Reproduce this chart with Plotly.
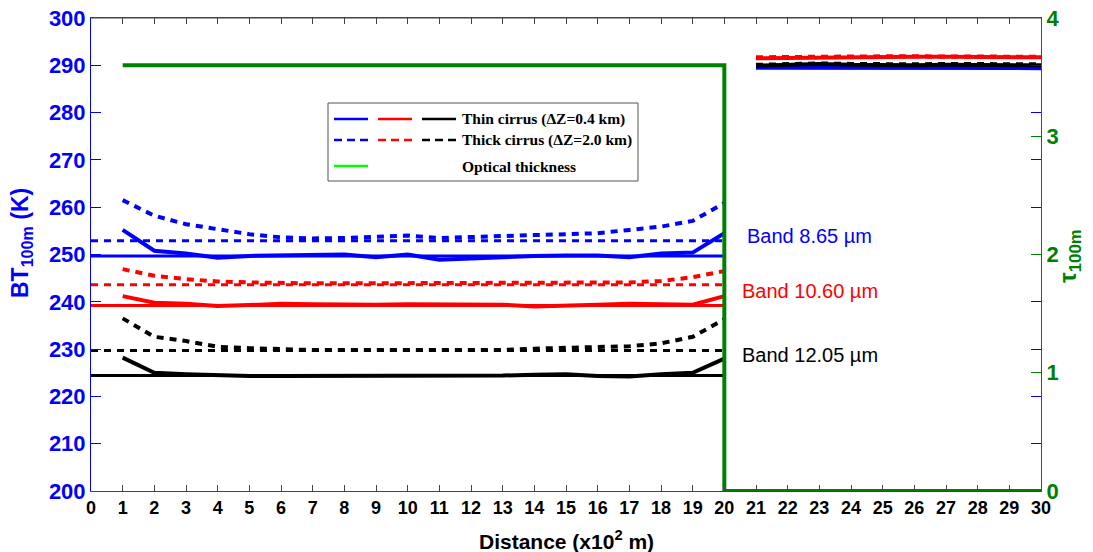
import plotly.graph_objects as go

# ---------------- data ----------------
dist_cloud = list(range(1, 21))
dist_clear = list(range(21, 31))
ref_x = [0, 20]

thin_865 = [255.2, 250.8, 250.2, 249.3, 249.7, 249.8, 249.8, 250.0, 249.4, 250.0,
            248.9, 249.2, 249.5, 249.7, 249.8, 249.8, 249.4, 250.2, 250.4, 254.5]
thick_865 = [261.5, 258.2, 256.4, 255.3, 254.3, 253.6, 253.4, 253.5, 253.8, 254.0,
             253.5, 253.8, 253.9, 254.1, 254.3, 254.5, 255.2, 255.9, 257.1, 260.9]
thin_1060 = [241.2, 239.8, 239.6, 239.1, 239.3, 239.6, 239.5, 239.4, 239.4, 239.5,
             239.5, 239.5, 239.4, 239.0, 239.3, 239.4, 239.6, 239.5, 239.4, 241.2]
thick_1060 = [246.9, 245.5, 244.8, 244.3, 244.1, 243.9, 243.9, 243.9, 243.9, 243.9,
              243.9, 243.9, 243.9, 243.9, 243.9, 244.0, 244.1, 244.4, 245.2, 246.5]
thin_1205 = [228.2, 225.0, 224.7, 224.4, 224.3, 224.3, 224.3, 224.3, 224.4, 224.4,
             224.3, 224.3, 224.4, 224.6, 224.7, 224.3, 224.2, 224.7, 225.0, 228.0]
thick_1205 = [236.5, 232.6, 231.7, 230.5, 230.2, 229.9, 229.8, 229.8, 229.8, 229.8,
              229.8, 229.8, 229.8, 230.1, 230.2, 230.3, 230.6, 231.2, 232.6, 236.3]

clear_thin_865 = [289.5, 289.5, 289.6, 289.5, 289.4, 289.5, 289.5, 289.6, 289.6, 289.4]
clear_thick_865 = [289.7, 289.7, 289.8, 289.7, 289.6, 289.7, 289.7, 289.8, 289.8, 289.6]
clear_thin_1060 = [291.5, 291.6, 291.7, 291.7, 291.8, 291.8, 291.8, 291.8, 291.8, 291.7]
clear_thick_1060 = [291.7, 291.8, 291.8, 291.9, 291.9, 291.9, 291.9, 291.9, 291.9, 291.8]
clear_thin_1205 = [289.9, 290.1, 290.3, 290.1, 290.0, 290.0, 290.1, 290.1, 290.1, 290.0]
clear_thick_1205 = [290.1, 290.3, 290.4, 290.3, 290.2, 290.2, 290.3, 290.3, 290.3, 290.2]

ref_thin = {"865": 249.7, "1060": 239.2, "1205": 224.4}
ref_thick = {"865": 252.9, "1060": 243.6, "1205": 229.7}

tau_x = [1, 20, 20, 30]
tau_y = [3.6, 3.6, 0, 0]

band_labels = ["Band 8.65 \u00b5m", "Band 10.60 \u00b5m", "Band 12.05 \u00b5m"]
band_label_y = [253.9, 242.3, 228.8]
x_ticks = list(range(0, 31))
y_ticks = list(range(200, 301, 10))
y2_ticks = [0, 1, 2, 3, 4]

BLUE, RED, BLACK, GREEN = "#0000FF", "#FF0000", "#000000", "#008000"
DASH = "7px,6px"

fig = go.Figure()

series = [
    ("865", BLUE, thin_865, thick_865, clear_thin_865, clear_thick_865),
    ("1060", RED, thin_1060, thick_1060, clear_thin_1060, clear_thick_1060),
    ("1205", BLACK, thin_1205, thick_1205, clear_thin_1205, clear_thick_1205),
]
for key, col, thin, thick, cthin, cthick in series:
    fig.add_trace(go.Scatter(x=ref_x, y=[ref_thin[key]] * 2, mode="lines",
                             line=dict(color=col, width=3), showlegend=False))
    fig.add_trace(go.Scatter(x=ref_x, y=[ref_thick[key]] * 2, mode="lines",
                             line=dict(color=col, width=3, dash=DASH), showlegend=False))
    fig.add_trace(go.Scatter(x=dist_cloud, y=thick, mode="lines",
                             line=dict(color=col, width=4, dash=DASH), showlegend=False))
    fig.add_trace(go.Scatter(x=dist_cloud, y=thin, mode="lines",
                             line=dict(color=col, width=4), showlegend=False))
for key, col, thin, thick, cthin, cthick in series:
    fig.add_trace(go.Scatter(x=dist_clear, y=cthick, mode="lines",
                             line=dict(color=col, width=4, dash=DASH), showlegend=False))
    fig.add_trace(go.Scatter(x=dist_clear, y=cthin, mode="lines",
                             line=dict(color=col, width=4), showlegend=False))

fig.add_trace(go.Scatter(x=tau_x, y=tau_y, mode="lines", yaxis="y2",
                         line=dict(color=GREEN, width=4), showlegend=False))

# band labels
for txt, yv, col in zip(band_labels, band_label_y, [BLUE, RED, BLACK]):
    fig.add_annotation(x=22.7, y=yv, xref="x", yref="y", text=txt, showarrow=False,
                       font=dict(family="Liberation Sans, Arial", size=20, color=col))

# ---------------- legend (drawn manually) ----------------
# page-pixel geometry of the plot area (page has an 8px body margin)
OFF = 8
L, R, T, B = 91, 1041, 18, 491
W, H = 1093 - OFF, 552 - OFF
def px(v):
    return (v - L) / (R - L)
def py(v):
    return (B - v) / (B - T)

fig.add_shape(type="rect", xref="paper", yref="paper", x0=px(328), x1=px(638),
              y0=py(181), y1=py(103), line=dict(color="#555555", width=1),
              fillcolor="white", layer="above")
rows = [(119, [BLUE, RED, BLACK], "solid", "Thin cirrus (\u0394Z=0.4 km)"),
        (140, [BLUE, RED, BLACK], "dash", "Thick cirrus (\u0394Z=2.0 km)"),
        (166, ["#00FF00"], "solid", "Optical thickness")]
seg_x = [(334, 368), (378, 412), (422, 456)]
for yy, cols, dash, txt in rows:
    for (a, b), c in zip(seg_x, cols):
        fig.add_shape(type="line", xref="paper", yref="paper", x0=px(a), x1=px(b),
                      y0=py(yy), y1=py(yy), layer="above",
                      line=dict(color=c, width=2.5, dash="8px,5px" if dash == "dash" else "solid"))
    fig.add_annotation(xref="paper", yref="paper", x=px(460), y=py(yy), xanchor="left",
                       yanchor="middle", text=txt, showarrow=False,
                       font=dict(family="Liberation Serif, Times New Roman", size=15.5,
                                 color="black", weight="bold"))

axis_font = "Liberation Sans, Arial"
# axis titles
fig.add_annotation(xref="paper", yref="paper", x=px(566), y=py(540), text="Distance (x10<sup>2</sup> m)",
                   showarrow=False, xanchor="center", yanchor="middle",
                   font=dict(family=axis_font, size=21, color="black", weight="bold"))
fig.add_annotation(xref="paper", yref="paper", x=px(22), y=py(243), text="BT<sub>100m</sub> (K)",
                   showarrow=False, textangle=-90, xanchor="center", yanchor="middle",
                   font=dict(family=axis_font, size=23, color=BLUE, weight="bold"))
fig.add_annotation(xref="paper", yref="paper", x=px(1070), y=py(256), text="\u03c4<sub>100m</sub>",
                   showarrow=False, textangle=-90, xanchor="center", yanchor="middle",
                   font=dict(family=axis_font, size=24, color=GREEN, weight="bold"))

fig.update_layout(
    width=W, height=H,
    margin=dict(l=L - OFF, r=W - (R - OFF), t=T - OFF, b=H - (B - OFF)),
    paper_bgcolor="white", plot_bgcolor="white",
    showlegend=False,
    xaxis=dict(range=[0, 30], tickvals=x_ticks, ticks="inside", ticklen=6,
               tickcolor="#444444", showline=True, linecolor="#444444", linewidth=1,
               mirror="ticks", showgrid=False, zeroline=False, automargin=False,
               ticklabeloverflow="allow",
               tickfont=dict(family=axis_font, size=18, color="black", weight="bold")),
    yaxis=dict(range=[200, 300], tickvals=y_ticks, ticks="inside", ticklen=10,
               tickcolor=BLUE, showline=True, linecolor=BLUE, linewidth=1,
               mirror="ticks", showgrid=False, zeroline=False, automargin=False,
               ticklabeloverflow="allow",
               tickfont=dict(family=axis_font, size=22, color=BLUE, weight="bold")),
    yaxis2=dict(range=[0, 4], tickvals=y2_ticks, overlaying="y", side="right",
                ticks="inside", ticklen=10, tickcolor=GREEN, showline=True,
                linecolor=GREEN, linewidth=1, showgrid=False, zeroline=False,
                automargin=False, ticklabeloverflow="allow",
                tickfont=dict(family=axis_font, size=22, color=GREEN, weight="bold")),
)
# top border
fig.add_shape(type="line", xref="paper", yref="paper", x0=0, x1=1, y0=1, y1=1,
              line=dict(color="#444444", width=1))

fig.write_html("out.html")
